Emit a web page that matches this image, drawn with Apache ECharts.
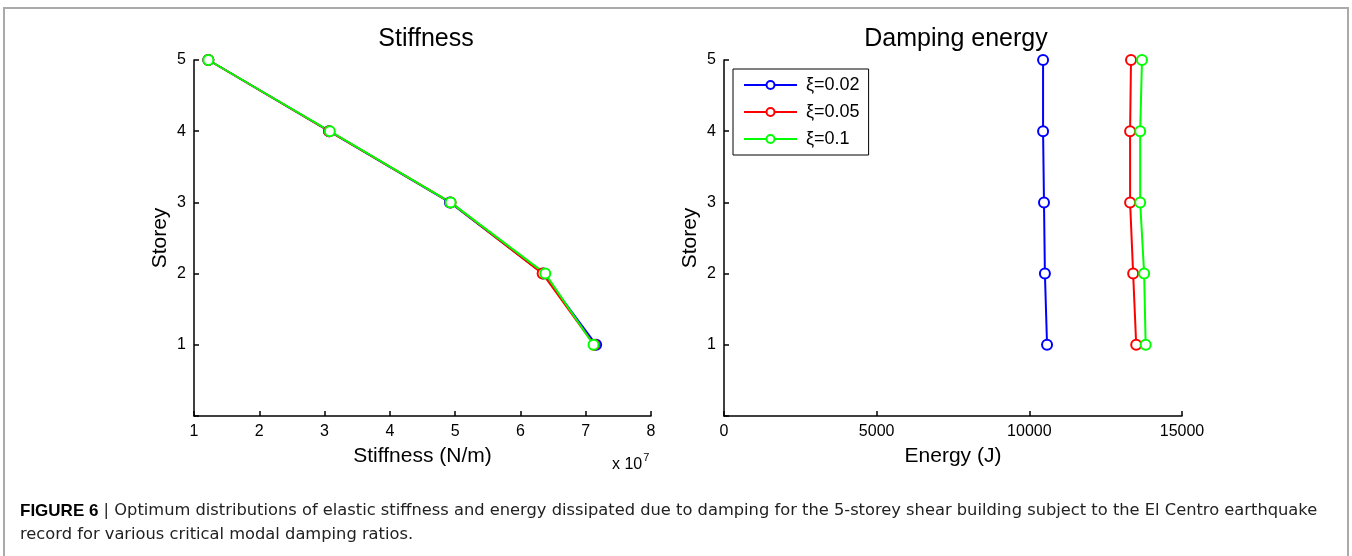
<!DOCTYPE html>
<html>
<head>
<meta charset="utf-8">
<script src="https://cdn.jsdelivr.net/npm/echarts@6/dist/echarts.min.js"></script>
<style>
  html, body { margin: 0; padding: 0; background: #fff; }
  #chart { width: 1352px; height: 556px; }
</style>
</head>
<body>
<div id="chart"></div>
<script>
// storeys, top to bottom
const storeys = [5, 4, 3, 2, 1]

// stiffness in units of 1e7 N/m
const stiffness002 = [1.22, 3.07, 4.92, 6.35, 7.16]
const stiffness005 = [1.22, 3.07, 4.93, 6.34, 7.13]
const stiffness01 = [1.22, 3.08, 4.93, 6.38, 7.12]

// damping energy (J)
const energy002 = [10450, 10450, 10480, 10510, 10580]
const energy005 = [13330, 13300, 13300, 13400, 13500]
const energy01 = [13690, 13630, 13630, 13760, 13810]

const seriesNames = ['ξ=0.02', 'ξ=0.05', 'ξ=0.1']
const colors = ['#0000ff', '#ff0000', '#00ff00']

const font = '"Liberation Sans", Arial, sans-serif'

const pairs = (xs) => xs.map((x, i) => [x, storeys[i]])

function axisX (min, max, interval, name, idx) {
  return {
    type: 'value', gridIndex: idx, min: min, max: max, interval: interval,
    name: name, nameLocation: 'middle', nameGap: 30,
    nameTextStyle: { fontFamily: font, fontSize: 21, color: '#000' },
    axisLine: { show: true, lineStyle: { color: '#000', width: 1.5 } },
    axisTick: { show: true, inside: true, length: 5, lineStyle: { color: '#000', width: 1.5 } },
    axisLabel: { fontFamily: font, fontSize: 16, color: '#000', margin: 8, formatter: (v) => String(v) },
    splitLine: { show: false }
  }
}

function axisY (idx) {
  return {
    type: 'value', gridIndex: idx, min: 0, max: 5, interval: 1,
    name: 'Storey', nameLocation: 'middle', nameGap: 23, nameRotate: 90,
    nameTextStyle: { fontFamily: font, fontSize: 21, color: '#000' },
    axisLine: { show: true, lineStyle: { color: '#000', width: 1.5 } },
    axisTick: { show: true, inside: true, length: 5, lineStyle: { color: '#000', width: 1.5 } },
    axisLabel: {
      fontFamily: font, fontSize: 16, color: '#000', margin: 8,
      formatter: (v) => v === 0 ? '' : String(v)
    },
    splitLine: { show: false }
  }
}

function lineSeries (name, data, color, idx) {
  return {
    name: name, type: 'line', xAxisIndex: idx, yAxisIndex: idx,
    data: data, symbol: 'emptyCircle', symbolSize: 10,
    lineStyle: { color: color, width: 2 },
    itemStyle: { color: color, borderColor: color, borderWidth: 2 },
    animation: false
  }
}

const chart = echarts.init(document.getElementById('chart'))

chart.setOption({
  backgroundColor: '#fff',
  animation: false,
  title: [
    { text: 'Stiffness', left: 421, top: 22, textAlign: 'center',
      textStyle: { fontFamily: font, fontSize: 25, fontWeight: 'normal', color: '#000' } },
    { text: 'Damping energy', left: 951, top: 22, textAlign: 'center',
      textStyle: { fontFamily: font, fontSize: 25, fontWeight: 'normal', color: '#000' } }
  ],
  grid: [
    { left: 194, top: 60, width: 457, height: 356 },
    { left: 724, top: 60, width: 458, height: 356 }
  ],
  xAxis: [
    axisX(1, 8, 1, 'Stiffness (N/m)', 0),
    axisX(0, 15000, 5000, 'Energy (J)', 1)
  ],
  yAxis: [axisY(0), axisY(1)],
  legend: {
    data: seriesNames,
    orient: 'vertical',
    left: 733, top: 69,
    padding: [7, 9, 7, 10],
    itemWidth: 53, itemHeight: 10, itemGap: 9,
    borderColor: '#000', borderWidth: 1, borderRadius: 0,
    textStyle: { fontFamily: font, fontSize: 18, color: '#000', padding: [0, 0, 0, 4] }
  },
  series: [
    lineSeries(seriesNames[0], pairs(stiffness002), colors[0], 0),
    lineSeries(seriesNames[1], pairs(stiffness005), colors[1], 0),
    lineSeries(seriesNames[2], pairs(stiffness01), colors[2], 0),
    lineSeries(seriesNames[0], pairs(energy002), colors[0], 1),
    lineSeries(seriesNames[1], pairs(energy005), colors[1], 1),
    lineSeries(seriesNames[2], pairs(energy01), colors[2], 1)
  ],
  graphic: [
    { type: 'rect', shape: { x: 4, y: 8, width: 1344, height: 560 }, silent: true,
      style: { fill: 'none', stroke: '#aaaaaa', lineWidth: 2 } },
    { type: 'text', left: 612, top: 452, silent: true,
      style: {
        text: '{a|x 10}{b|7}',
        rich: {
          a: { fontFamily: font, fontSize: 16, color: '#000', verticalAlign: 'bottom' },
          b: { fontFamily: font, fontSize: 11, color: '#000', verticalAlign: 'top', padding: [0, 0, 10, 1] }
        }
      } },
    { type: 'text', left: 20, top: 499, silent: true,
      style: {
        text: '{b|FIGURE 6} | Optimum distributions of elastic stiffness and energy dissipated due to damping for the 5-storey shear building subject to the El Centro earthquake\nrecord for various critical modal damping ratios.',
        fontFamily: '"DejaVu Sans", sans-serif', fontSize: 16.3, lineHeight: 24, fill: '#222',
        rich: { b: { fontFamily: font, fontSize: 17, fontWeight: 'bold', fill: '#000' } }
      } }
  ]
})
</script>
</body>
</html>
